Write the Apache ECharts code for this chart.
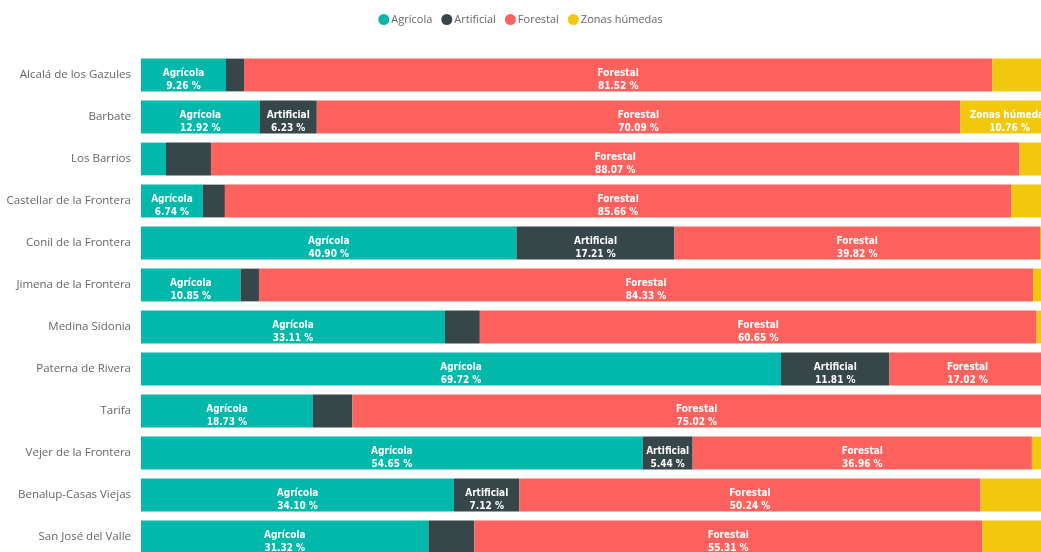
<!DOCTYPE html>
<html>
<head>
<meta charset="utf-8">
<script src="https://cdn.jsdelivr.net/npm/echarts@6/dist/echarts.min.js"></script>
<style>
  html, body { margin: 0; padding: 0; background: #fff; }
  #chart { width: 1041px; height: 552px; }
</style>
</head>
<body>
<div id="chart"></div>
<script>
// municipios (de arriba a abajo)
const municipios = ['Alcalá de los Gazules', 'Barbate', 'Los Barrios', 'Castellar de la Frontera',
  'Conil de la Frontera', 'Jimena de la Frontera', 'Medina Sidonia', 'Paterna de Rivera',
  'Tarifa', 'Vejer de la Frontera', 'Benalup-Casas Viejas', 'San José del Valle'];

// % de superficie por uso del suelo
const agricola   = [9.26, 12.92, 2.72, 6.74, 40.90, 10.85, 33.11, 69.72, 18.73, 54.65, 34.10, 31.32];
const artificial = [1.96, 6.23, 4.90, 2.40, 17.21, 2.00, 3.80, 11.81, 4.30, 5.44, 7.12, 5.00];
const forestal   = [81.52, 70.09, 88.07, 85.66, 39.82, 84.33, 60.65, 17.02, 75.02, 36.96, 50.24, 55.31];
const humedas    = [7.26, 10.76, 4.31, 5.20, 2.07, 2.82, 2.44, 1.45, 1.95, 2.95, 8.54, 8.37];

// etiqueta solo si cabe en el segmento
const minLabel = [6, 5.4, 10, 10];

function renderChart() {
  const chart = echarts.init(document.getElementById('chart'));
  const colors = ['#01B8AA', '#374649', '#FD625E', '#F2C80F'];
  const names = ['Agrícola', 'Artificial', 'Forestal', 'Zonas húmedas'];
  const datos = [agricola, artificial, forestal, humedas];

  const series = datos.map((d, i) => ({
    name: names[i],
    type: 'bar',
    stack: 'total',
    barCategoryGap: '22%',
    data: d,
    itemStyle: { color: colors[i] },
    label: {
      show: true,
      position: 'inside',
      offset: [0, 5],
      color: '#fff',
      fontSize: 10,
      fontWeight: 'bold',
      lineHeight: 13,
      fontFamily: "'DejaVu Sans Condensed', 'Liberation Sans Narrow', sans-serif",
      formatter: p => p.value >= minLabel[i] ? p.seriesName + '\n' + p.value.toFixed(2) + ' %' : ''
    }
  }));

  const option = {
    animation: false,
    color: colors,
    legend: {
      top: 9,
      left: 'center',
      icon: 'circle',
      itemWidth: 11,
      itemHeight: 11,
      itemGap: 9,
      textStyle: { color: '#666', fontSize: 11, fontFamily: "'Open Sans', sans-serif", padding: [0, 0, 0, -3] }
    },
    grid: {
      left: 141,
      top: 54,
      width: 918,
      height: 504,
      outerBoundsMode: 'none'
    },
    xAxis: {
      type: 'value',
      min: 0,
      max: 100,
      show: false
    },
    yAxis: {
      type: 'category',
      inverse: true,
      data: municipios,
      axisLine: { show: false },
      axisTick: { show: false },
      axisLabel: { color: '#666', fontSize: 11.5, margin: 10, fontFamily: "'Open Sans', sans-serif" }
    },
    series: series
  };
  chart.setOption(option, true);
}
renderChart();
</script>
</body>
</html>
